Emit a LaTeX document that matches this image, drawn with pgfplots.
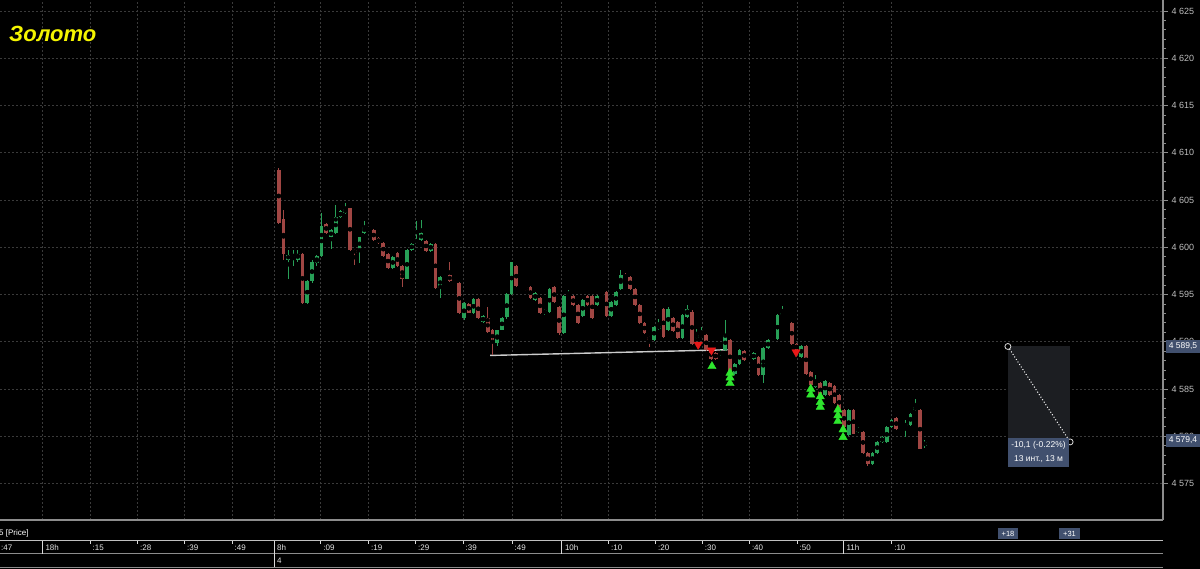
\documentclass[border=0pt]{standalone}
\usepackage{pgfplots}
\pgfplotsset{compat=1.18}
\usepackage{pgfplotstable}
\usepackage{fontspec}
\setmainfont{Liberation Sans}

\definecolor{bull}{HTML}{27A057}
\definecolor{bear}{HTML}{A04643}
\definecolor{gridc}{HTML}{3A3A3A}
\definecolor{framec}{HTML}{8C8C8C}
\definecolor{tickc}{HTML}{BEBEBE}
\definecolor{badge}{HTML}{41506E}
\definecolor{sigup}{HTML}{2EE62E}
\definecolor{sigdn}{HTML}{E81818}
\definecolor{measure}{HTML}{1C1E22}
\definecolor{title}{HTML}{F5F500}

% rising candles: index, open, high, low, close
\pgfplotstableread{
i o h l c
3 4598.7 4599.7 4596.7 4599.2
4 4599.0 4599.7 4598.0 4599.2
5 4598.7 4599.7 4598.5 4599.3
7 4594.1 4596.5 4594.0 4596.4
8 4596.4 4598.6 4596.2 4598.5
9 4598.3 4599.2 4598.0 4599.1
10 4599.1 4603.6 4599.0 4602.2
12 4601.05 4601.9 4599.8 4601.8
13 4601.5 4604.5 4601.4 4603.2
14 4603.2 4603.9 4603.1 4603.8
15 4603.6 4604.7 4603.5 4604.1
18 4599.7 4601.1 4598.3 4601.05
19 4601.5 4602.8 4601.4 4602.2
25 4597.8 4599.1 4597.7 4599.0
28 4596.7 4599.8 4596.6 4599.7
29 4599.7 4600.5 4599.6 4600.4
30 4600.5 4602.8 4600.4 4600.8
31 4600.8 4602.9 4600.7 4601.5
33 4599.6 4600.5 4599.5 4600.4
35 4595.65 4597.0 4594.6 4596.9
36 4596.9 4597.2 4596.8 4597.1
40 4592.5 4594.2 4592.3 4594.1
42 4593.0 4594.6 4592.9 4594.5
44 4592.1 4592.8 4592.0 4592.7
47 4589.9 4591.3 4589.6 4591.2
48 4591.3 4592.6 4591.2 4592.5
49 4592.6 4595.2 4592.4 4595.1
50 4595.1 4598.5 4595.0 4598.4
55 4594.4 4595.3 4594.3 4595.2
57 4593.0 4593.5 4592.8 4593.4
58 4593.2 4595.7 4593.1 4595.6
61 4590.9 4594.9 4590.8 4594.8
62 4594.8 4595.5 4594.7 4594.95
65 4592.7 4594.5 4592.6 4594.4
68 4593.9 4595.0 4593.8 4594.9
69 4594.9 4595.2 4594.8 4595.1
71 4592.7 4594.3 4592.6 4594.2
72 4593.9 4595.4 4593.8 4595.3
73 4595.6 4597.6 4595.5 4597.1
80 4590.2 4591.7 4590.1 4591.6
81 4591.4 4592.4 4591.3 4591.7
83 4591.2 4593.7 4591.1 4593.5
86 4590.4 4592.9 4590.3 4592.8
87 4592.65 4593.9 4592.5 4593.5
89 4590.4 4591.4 4590.3 4590.7
90 4590.5 4591.6 4590.4 4590.8
94 4588.6 4589.1 4588.5 4589.0
95 4589.1 4592.3 4589.0 4590.7
97 4586.6 4587.7 4586.5 4587.6
98 4587.6 4589.2 4587.5 4589.1
100 4588.0 4588.3 4587.9 4588.2
101 4588.2 4588.9 4588.1 4588.8
103 4586.5 4589.4 4585.6 4589.3
104 4589.3 4590.3 4589.2 4590.2
105 4590.2 4590.5 4590.1 4590.4
106 4590.3 4592.9 4590.2 4592.8
107 4592.8 4593.8 4592.7 4593.0
111 4588.4 4589.7 4588.3 4589.6
114 4585.2 4586.5 4585.1 4585.8
116 4584.4 4585.9 4584.3 4585.8
121 4580.1 4582.9 4580.0 4582.8
123 4580.5 4581.0 4580.4 4580.8
126 4577.1 4578.3 4577.0 4578.2
127 4578.2 4579.5 4578.1 4579.4
128 4579.4 4580.0 4579.3 4579.9
129 4579.4 4581.1 4579.3 4581.0
130 4581.0 4581.8 4580.9 4581.7
133 4581.1 4581.7 4579.9 4581.3
134 4581.2 4582.5 4581.1 4582.4
135 4582.8 4583.9 4582.7 4583.1
137 4579.0 4579.6 4578.8 4579.4
}\upcandles

% falling candles
\pgfplotstableread{
i o h l c
0 4608.8 4608.8 4608.6 4608.6
1 4608.2 4608.4 4602.5 4602.6
2 4603.0 4603.9 4598.7 4599.3
6 4599.3 4599.4 4594.0 4594.1
11 4602.5 4602.6 4601.4 4601.5
16 4604.1 4604.2 4599.6 4599.7
17 4599.7 4599.8 4598.1 4599.4
20 4602.0 4602.2 4601.7 4601.8
21 4601.8 4601.9 4600.7 4600.8
22 4601.0 4601.1 4600.3 4600.4
23 4600.5 4600.6 4599.0 4599.1
24 4599.3 4599.4 4597.7 4597.8
26 4599.4 4599.5 4597.9 4598.0
27 4598.0 4598.1 4595.8 4596.7
32 4600.7 4600.8 4599.5 4599.6
34 4600.4 4600.5 4595.6 4595.65
37 4597.1 4598.4 4596.3 4596.4
38 4596.7 4596.8 4596.3 4596.4
39 4596.2 4596.3 4592.9 4593.0
41 4594.0 4594.1 4593.0 4593.1
43 4594.5 4594.6 4592.4 4592.5
45 4592.5 4593.7 4590.9 4591.0
46 4591.3 4591.4 4588.6 4589.9
51 4598.0 4598.1 4595.8 4595.9
52 4595.9 4596.0 4595.6 4595.7
53 4595.8 4595.9 4595.4 4595.5
54 4595.8 4595.9 4594.5 4594.6
56 4594.6 4594.7 4592.9 4593.0
59 4595.8 4595.9 4594.1 4594.2
60 4593.7 4593.8 4590.7 4590.9
63 4594.8 4594.9 4593.8 4593.9
64 4593.9 4594.0 4591.9 4592.0
66 4594.9 4595.0 4593.8 4593.9
67 4594.9 4595.0 4592.4 4592.5
70 4595.3 4595.4 4592.6 4592.7
74 4597.0 4597.3 4596.6 4596.7
75 4596.9 4597.0 4595.5 4595.6
76 4595.6 4595.7 4593.8 4593.9
77 4593.9 4594.0 4591.9 4592.0
78 4592.0 4592.1 4590.8 4590.9
79 4590.5 4590.6 4589.4 4590.2
82 4593.5 4593.6 4590.4 4590.5
84 4592.5 4592.6 4591.0 4591.1
85 4592.1 4592.2 4590.3 4590.4
88 4593.2 4593.4 4589.7 4589.8
91 4590.7 4590.8 4589.0 4589.1
92 4589.1 4589.2 4588.1 4588.2
93 4588.8 4588.9 4588.1 4588.2
96 4590.2 4590.3 4586.5 4586.6
99 4589.0 4589.1 4588.0 4588.1
102 4588.4 4588.5 4586.4 4586.5
108 4592.7 4592.8 4592.4 4592.5
109 4592.0 4592.1 4589.7 4589.8
110 4589.8 4589.9 4589.0 4589.1
112 4589.6 4589.7 4586.5 4586.6
113 4586.8 4586.9 4585.3 4585.4
115 4585.6 4585.7 4584.1 4584.2
117 4585.6 4585.7 4584.3 4584.4
118 4585.3 4585.4 4583.4 4583.5
119 4584.4 4584.5 4582.7 4582.8
120 4582.8 4582.9 4580.9 4581.0
122 4582.8 4582.9 4580.2 4580.3
124 4580.5 4580.6 4578.1 4578.2
125 4578.2 4578.3 4576.9 4577.1
131 4581.9 4582.0 4580.7 4580.8
132 4581.3 4581.4 4581.0 4581.1
136 4582.8 4582.9 4578.6 4578.7
}\downcandles

\pgfplotsset{
  wick/.style={only marks, mark=none, error bars/.cd, y dir=both, y explicit,
    error mark=none, error bar style={draw=#1, solid, line width=1pt}},
  body/.style={only marks, mark=none, error bars/.cd, y dir=both, y explicit,
    error mark=none, error bar style={draw=#1, solid, line width=3.9pt}},
}

\begin{document}
\begin{tikzpicture}[x=1pt,y=1pt]
\fill[black] (0,0) rectangle (1200,569);
\path[use as bounding box] (0,0) rectangle (1200,569);

\begin{axis}[
  at={(0pt,49pt)}, anchor=south west,
  scale only axis, width=1163pt, height=520pt,
  xmin=-57.684, xmax=187.158,
  ymin=4571.14, ymax=4626.16,
  axis x line*=bottom, axis y line*=right,
  axis line style={-, draw=framec, line width=1.2pt},
  xtick={-48.78,-38.74,-28.74,-18.84,-8.84,0,9.83,19.89,29.79,39.79,50.1,60.59,70.4,80.32,90.15,100.06,110.1,119.87,130.02},
  xticklabels={},
  xtick style={draw=none},
  ytick={4575,4580,...,4625},
  yticklabels={4 575,4 580,4 585,4 590,4 595,4 600,4 605,4 610,4 615,4 620,4 625},
  minor y tick num=4,
  tick align=outside,
  ytick style={draw=framec, line width=0.8pt},
  major tick length=5pt, minor tick length=3pt,
  yticklabel style={font=\fontsize{9}{10}\selectfont, text=tickc},
  grid=major,
  major grid style={draw=gridc, dash pattern=on 1.5pt off 2.5pt, line width=0.8pt},
]
% measurement area
\addplot[fill=measure, draw=none] coordinates {(154.5,4579.4) (167.6,4579.4) (167.6,4589.5) (154.5,4589.5)} -- cycle;

% level line
\addplot[color=white!80!black, line width=1.4pt] coordinates {(45.5,4588.55) (95.5,4589.15)};

% wicks
\addplot[wick=bull] table[x=i, y expr={(\thisrow{h}+\thisrow{l})/2}, y error expr={(\thisrow{h}-\thisrow{l})/2}] {\upcandles};
\addplot[wick=bear] table[x=i, y expr={(\thisrow{h}+\thisrow{l})/2}, y error expr={(\thisrow{h}-\thisrow{l})/2}] {\downcandles};
% bodies
\addplot[body=bull] table[x=i, y expr={(\thisrow{o}+\thisrow{c})/2}, y error expr={abs(\thisrow{c}-\thisrow{o})/2}] {\upcandles};
\addplot[body=bear] table[x=i, y expr={(\thisrow{o}+\thisrow{c})/2}, y error expr={abs(\thisrow{c}-\thisrow{o})/2}] {\downcandles};

% signals
\addplot[only marks, mark=triangle*, mark size=4.8pt, mark options={draw=sigup, fill=sigup}] coordinates {
  (92.2,4587.4) (96,4586.7) (96,4586.2) (96,4585.6)
  (113,4585.0) (113,4584.4)
  (115,4584.2) (115,4583.6) (115,4583.1)
  (118.7,4582.8) (118.7,4582.2) (118.7,4581.6)
  (119.8,4580.7) (119.8,4579.9)};
\addplot[only marks, mark=triangle*, mark size=4.8pt, mark options={draw=sigdn, fill=sigdn, rotate=180}] coordinates {
  (89.3,4589.7) (92.1,4589.1) (109.9,4588.9)};

% measurement line
\addplot[white, dotted, line width=1pt, mark=*, mark size=3pt, mark options={solid, draw=white!85!black, fill=black, line width=0.8pt}] coordinates {(154.5,4589.5) (167.6,4579.4)};
\end{axis}

% title
\node[anchor=west, text=title, inner sep=0] at (9,535) {\fontsize{22}{24}\selectfont\bfseries\itshape Золото};

% price badges
\fill[badge] (1166,216) rectangle (1200,229);
\node[text=white, font=\fontsize{8.5}{9}\selectfont] at (1183,222.5) {4 589,5};
\fill[badge] (1166,122) rectangle (1200,135);
\node[text=white, font=\fontsize{8.5}{9}\selectfont] at (1183,128.5) {4 579,4};

% measurement label
\fill[badge] (1008,102) rectangle (1069,131);
\node[text=white, font=\fontsize{8.5}{9}\selectfont] at (1038.5,123.5) {-10,1 (-0.22\%)};
\node[text=white, font=\fontsize{8.5}{9}\selectfont] at (1038.5,110) {13 инт., 13 м};

% lower panels
\node[anchor=west, text=white, font=\fontsize{8}{9}\selectfont, inner sep=0] at (-1,36) {5 [Price]};
\fill[badge] (998,29.5) rectangle (1018,40.5);
\node[text=white, font=\fontsize{7.5}{8}\selectfont] at (1008,35) {+18};
\fill[badge] (1059,29.5) rectangle (1080,40.5);
\node[text=white, font=\fontsize{7.5}{8}\selectfont] at (1069.5,35) {+31};

\draw[white!75!black, line width=1pt] (0,28.3) -- (1163,28.3);
\draw[framec, line width=1pt] (0,15) -- (1163,15);
\draw[framec, line width=1pt] (0,1.7) -- (1163,1.7);

\foreach \px/\lab in {90/:15,137.5/:28,184.5/:39,232/:49,320.7/:09,368.5/:19,415.5/:29,463/:39,512/:49,608.4/:10,655.5/:20,702.2/:30,749.3/:40,797/:50,891.6/:10}{
  \draw[white!85!black, line width=0.8pt] (\px,28.3) -- (\px,24.5);
  \node[anchor=west, text=white!90!black, font=\fontsize{8}{9}\selectfont, inner sep=0] at (\px+2.5,21.7) {\lab};
}
\foreach \px/\lab in {42.3/18h,561.8/10h,843.4/11h}{
  \draw[white!85!black, line width=0.8pt] (\px,28.3) -- (\px,15);
  \node[anchor=west, text=white!90!black, font=\fontsize{8}{9}\selectfont, inner sep=0] at (\px+3,21.7) {\lab};
}
\draw[white!85!black, line width=0.8pt] (274,28.3) -- (274,1.7);
\node[anchor=west, text=white!90!black, font=\fontsize{8}{9}\selectfont, inner sep=0] at (277,21.7) {8h};
\node[anchor=west, text=white!90!black, font=\fontsize{8}{9}\selectfont, inner sep=0] at (277,8) {4};
\node[anchor=west, text=white!90!black, font=\fontsize{8}{9}\selectfont, inner sep=0] at (1,21.7) {:47};
\end{tikzpicture}
\end{document}
